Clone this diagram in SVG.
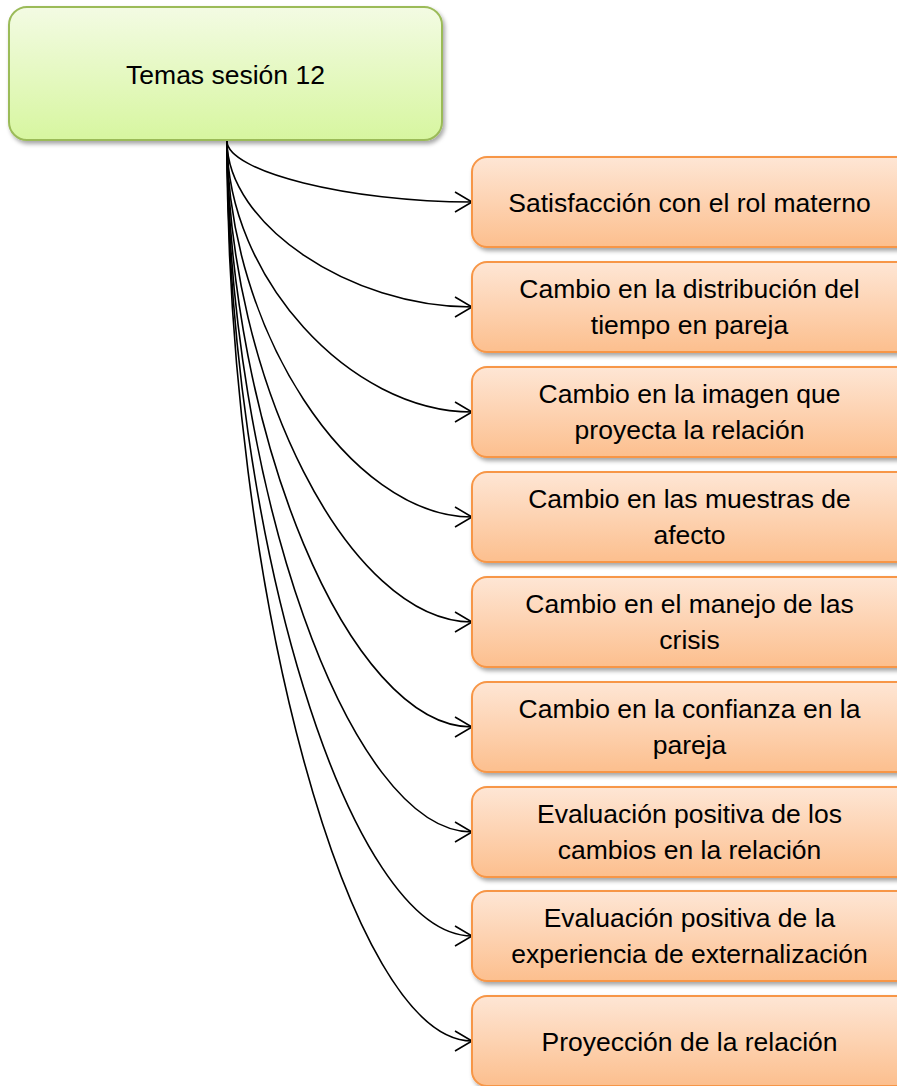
<svg xmlns="http://www.w3.org/2000/svg" width="897" height="1086" viewBox="0 0 897 1086">
<defs>
<linearGradient id="gGreen" x1="0" y1="0" x2="0" y2="1">
<stop offset="0" stop-color="#f3fbe3"/>
<stop offset="1" stop-color="#d7f6a0"/>
</linearGradient>
<linearGradient id="gOrange" x1="0" y1="0" x2="0" y2="1">
<stop offset="0" stop-color="#fee6d5"/>
<stop offset="1" stop-color="#fcbf8e"/>
</linearGradient>
<filter id="shadow" x="-10%" y="-10%" width="130%" height="140%">
<feDropShadow dx="2" dy="3" stdDeviation="2" flood-color="#000" flood-opacity="0.35"/>
</filter>
<marker id="arrow" markerUnits="userSpaceOnUse" markerWidth="24" markerHeight="24" viewBox="-20 -12 24 24" refX="0" refY="0" orient="auto">
<path d="M-17,-10 L0,0 L-17,10" fill="none" stroke="#000" stroke-width="1.6"/>
</marker>
<style>
.root rect{fill:url(#gGreen);stroke:#9bbb59;stroke-width:2;filter:url(#shadow)}
.topic rect{fill:url(#gOrange);stroke:#f79646;stroke-width:2;filter:url(#shadow)}
text{font-family:"Liberation Sans",Arial,sans-serif;font-size:26.5px;fill:#000;text-anchor:middle}
.conn path{fill:none;stroke:#000;stroke-width:1.6;marker-end:url(#arrow)}
</style>
</defs>
<rect width="897" height="1086" fill="#fff"/>
<g id="connectors" class="conn">
<path d="M227,141 C227,171.5 349.5,202 472,202"/>
<path d="M227,141 C227,224 349.5,307 472,307"/>
<path d="M227,141 C227,276.5 349.5,412 472,412"/>
<path d="M227,141 C227,329 349.5,517 472,517"/>
<path d="M227,141 C227,381.5 349.5,622 472,622"/>
<path d="M227,141 C227,434 349.5,727 472,727"/>
<path d="M227,141 C227,486.5 349.5,832 472,832"/>
<path d="M227,141 C227,538.5 349.5,936 472,936"/>
<path d="M227,141 C227,591 349.5,1041 472,1041"/>
</g>
<g id="root" class="root">
<rect x="9" y="7" width="433" height="133" rx="18"/>
<text x="225.5" y="84">Temas sesión 12</text>
</g>
<g id="n1" class="topic">
<rect x="472" y="157" width="440" height="90" rx="15"/>
<text x="689.5" y="212">Satisfacción con el rol materno</text>
</g>
<g id="n2" class="topic">
<rect x="472" y="262" width="440" height="90" rx="15"/>
<text x="689.5" y="298">Cambio en la distribución del</text>
<text x="689.5" y="334">tiempo en pareja</text>
</g>
<g id="n3" class="topic">
<rect x="472" y="367" width="440" height="90" rx="15"/>
<text x="689.5" y="403">Cambio en la imagen que</text>
<text x="689.5" y="439">proyecta la relación</text>
</g>
<g id="n4" class="topic">
<rect x="472" y="472" width="440" height="90" rx="15"/>
<text x="689.5" y="508">Cambio en las muestras de</text>
<text x="689.5" y="544">afecto</text>
</g>
<g id="n5" class="topic">
<rect x="472" y="577" width="440" height="90" rx="15"/>
<text x="689.5" y="613">Cambio en el manejo de las</text>
<text x="689.5" y="649">crisis</text>
</g>
<g id="n6" class="topic">
<rect x="472" y="682" width="440" height="90" rx="15"/>
<text x="689.5" y="718">Cambio en la confianza en la</text>
<text x="689.5" y="754">pareja</text>
</g>
<g id="n7" class="topic">
<rect x="472" y="787" width="440" height="90" rx="15"/>
<text x="689.5" y="823">Evaluación positiva de los</text>
<text x="689.5" y="859">cambios en la relación</text>
</g>
<g id="n8" class="topic">
<rect x="472" y="891" width="440" height="90" rx="15"/>
<text x="689.5" y="927">Evaluación positiva de la</text>
<text x="689.5" y="963">experiencia de externalización</text>
</g>
<g id="n9" class="topic">
<rect x="472" y="996" width="440" height="90" rx="15"/>
<text x="689.5" y="1051">Proyección de la relación</text>
</g>
</svg>
